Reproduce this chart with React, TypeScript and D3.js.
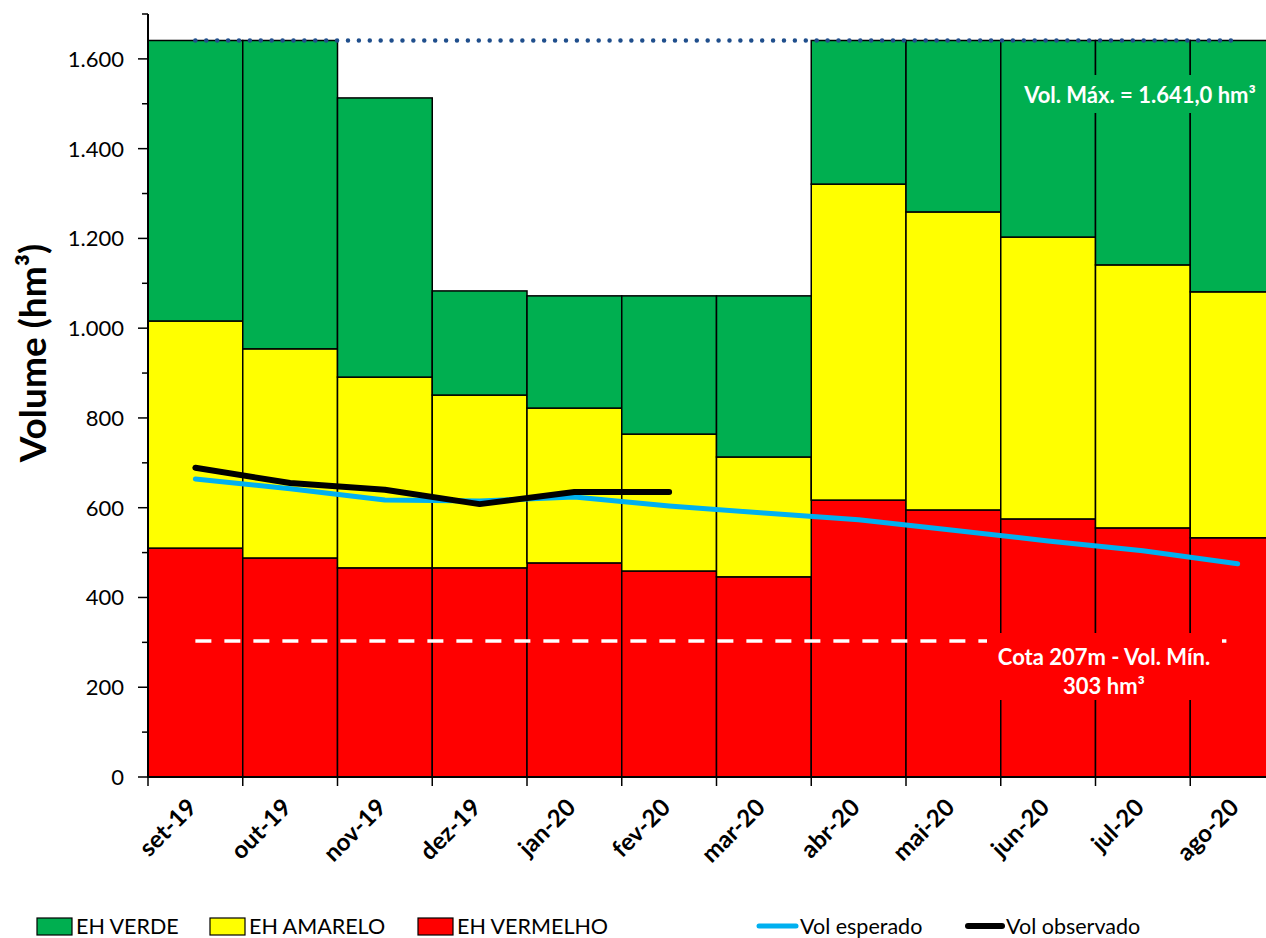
import React from 'react';
import * as d3 from 'd3';

// Months on the x axis
const months = ['set-19', 'out-19', 'nov-19', 'dez-19', 'jan-20', 'fev-20', 'mar-20', 'abr-20', 'mai-20', 'jun-20', 'jul-20', 'ago-20'];

// Upper limit of each band (hm³)
const redTop = [510, 488, 466, 466, 477, 459, 446, 617, 595, 575, 555, 533];
const yellowTop = [1016, 954, 891, 851, 822, 764, 713, 1321, 1259, 1203, 1141, 1081];
const greenTop = [1641, 1641, 1513, 1083, 1072, 1072, 1072, 1641, 1641, 1641, 1641, 1641];

// Lines
const volEsperado = [664, 642, 617, 615, 624, 604, 588, 573, 550, 526, 504, 475];
const volObservado = [689, 655, 640, 608, 635, 635];

const VOL_MAX = 1641;
const VOL_MIN = 303;
const yTicks = [0, 200, 400, 600, 800, 1000, 1200, 1400, 1600];
const yMinor = [100, 300, 500, 700, 900, 1100, 1300, 1500, 1700];

const W = 1266;
const H = 938;
const FONT = 'Lato, "Open Sans", sans-serif';

const GREEN = '#00AF50';
const YELLOW = '#FFFF00';
const RED = '#FF0000';
const BLUE = '#00B0F0';

const fmt = (v: number) => v.toLocaleString('de-DE');

export default function App() {
  const x = d3.scaleBand<string>().domain(months).range([148, 148 + 12 * 94.75]).padding(0);
  const y = d3.scaleLinear().domain([0, 1700]).range([777, 14]);
  const bw = x.bandwidth();
  const cx = (m: string) => (x(m) as number) + bw / 2;

  const line = d3.line<[number, number]>().x(d => d[0]).y(d => d[1]);
  const esperadoPts = volEsperado.map((v, i) => [cx(months[i]), y(v)] as [number, number]);
  const observadoPts = volObservado.map((v, i) => [cx(months[i]), y(v)] as [number, number]);

  const layers = [
    { name: 'red', lo: months.map(() => 0), hi: redTop, color: RED },
    { name: 'yellow', lo: redTop, hi: yellowTop, color: YELLOW },
    { name: 'green', lo: yellowTop, hi: greenTop, color: GREEN },
  ];

  const x0 = cx(months[0]);
  const x1 = cx(months[months.length - 1]);

  return (
    <svg width={W} height={H} style={{ position: 'absolute', left: 0, top: 0, background: '#fff' }} fontFamily={FONT}>
      {/* bars */}
      {layers.map(l => (
        <g key={l.name}>
          {months.map((m, i) => (
            <rect key={m} x={x(m)} y={y(l.hi[i])} width={bw} height={y(l.lo[i]) - y(l.hi[i])}
              fill={l.color} stroke="#000" strokeWidth={1.5} />
          ))}
        </g>
      ))}

      {/* min volume dashed */}
      <line x1={x0} x2={x1} y1={y(VOL_MIN)} y2={y(VOL_MIN)} stroke="#fff" strokeWidth={3.5} strokeDasharray="16 13" />
      {/* max volume dotted */}
      <line x1={x0} x2={x1} y1={y(VOL_MAX)} y2={y(VOL_MAX)} stroke="#1F4E8C" strokeWidth={4.5}
        strokeDasharray="0 10.9" strokeLinecap="round" />

      {/* text boxes */}
      <rect x={1018} y={75} width={244} height={38} fill={GREEN} />
      <text x={1140} y={103} fill="#fff" fontWeight="bold" fontSize={22} textAnchor="middle">Vol. Máx. = 1.641,0 hm³</text>
      <rect x={987} y={633} width={235} height={67} fill={RED} />
      <text x={1104} y={665} fill="#fff" fontWeight="bold" fontSize={22} textAnchor="middle">Cota 207m - Vol. Mín.</text>
      <text x={1104} y={694} fill="#fff" fontWeight="bold" fontSize={22} textAnchor="middle">303 hm³</text>

      {/* lines */}
      <path d={line(esperadoPts) as string} fill="none" stroke={BLUE} strokeWidth={5} strokeLinecap="round" strokeLinejoin="round" />
      <path d={line(observadoPts) as string} fill="none" stroke="#000" strokeWidth={6} strokeLinecap="round" strokeLinejoin="round" />

      {/* y axis */}
      <line x1={148} x2={148} y1={y(1700)} y2={y(0)} stroke="#000" strokeWidth={2} />
      {yTicks.map(t => (
        <g key={t}>
          <line x1={138} x2={148} y1={y(t)} y2={y(t)} stroke="#000" strokeWidth={1.5} />
          <text x={124} y={y(t)} dy="0.36em" textAnchor="end" fontSize={22} fill="#000">{fmt(t)}</text>
        </g>
      ))}
      {yMinor.map(t => (
        <line key={t} x1={142} x2={148} y1={y(t)} y2={y(t)} stroke="#000" strokeWidth={1.5} />
      ))}
      <text transform={`translate(46,353) rotate(-90)`} textAnchor="middle" fontSize={37} fontWeight="bold" fill="#000">
        Volume (hm³)
      </text>

      {/* x axis */}
      <line x1={148} x2={W} y1={y(0)} y2={y(0)} stroke="#000" strokeWidth={2} />
      {months.map(m => (
        <g key={m}>
          <line x1={x(m)} x2={x(m)} y1={y(0)} y2={y(0) + 9} stroke="#000" strokeWidth={1.5} />
          <text transform={`translate(${(x(m) as number) + 50},${y(0) + 32}) rotate(-45)`} textAnchor="end"
            fontSize={24} fontWeight="bold" fill="#000">{m}</text>
        </g>
      ))}

      {/* legend */}
      <g fontSize={21.5} fill="#000">
        <rect x={37} y={918} width={35} height={17} fill={GREEN} stroke="#000" strokeWidth={1.2} />
        <text x={76} y={934}>EH VERDE</text>
        <rect x={210} y={918} width={35} height={17} fill={YELLOW} stroke="#000" strokeWidth={1.2} />
        <text x={249} y={934}>EH AMARELO</text>
        <rect x={418} y={918} width={35} height={17} fill={RED} stroke="#000" strokeWidth={1.2} />
        <text x={457} y={934}>EH VERMELHO</text>
        <line x1={759} x2={796} y1={926} y2={926} stroke={BLUE} strokeWidth={5} strokeLinecap="round" />
        <text x={800} y={934}>Vol esperado</text>
        <line x1={968} x2={1002} y1={926} y2={926} stroke="#000" strokeWidth={6} strokeLinecap="round" />
        <text x={1006} y={934}>Vol observado</text>
      </g>
    </svg>
  );
}
